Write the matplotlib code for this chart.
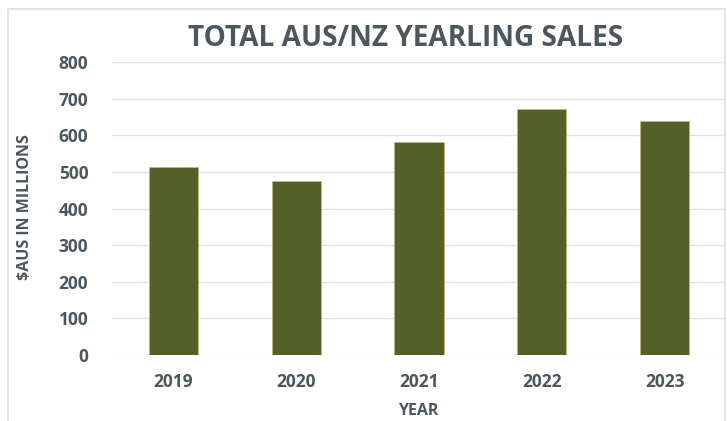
import matplotlib.pyplot as plt
from matplotlib.patches import Rectangle

years = ["2019", "2020", "2021", "2022", "2023"]
sales = [512, 476, 582, 673, 640]
y_ticks = [0, 100, 200, 300, 400, 500, 600, 700, 800]

TEXT = "#4b575e"
BAR = "#556027"
GRID = "#dce3ea"

plt.rcParams["font.family"] = ["Open Sans", "DejaVu Sans"]
plt.rcParams["font.weight"] = "bold"

W, H = 727, 421
fig = plt.figure(figsize=(W / 100, H / 100), dpi=100)
fig.patch.set_facecolor("white")

# light outer frame of the chart box
fig.patches.append(Rectangle((8 / W, -0.05), 717 / W, 1.05 - 9 / H,
                             transform=fig.transFigure, fill=False,
                             edgecolor="#eadbd6", lw=1.2))

ax = fig.add_axes([112 / W, 1 - 355 / H, 614 / W, 293 / H])
x = range(len(years))
ax.bar(x, sales, width=0.4, color=BAR, edgecolor="#c9b98a", linewidth=0.4, zorder=3)
ax.set_xlim(-0.5, len(years) - 0.5)
ax.set_ylim(0, 800)
ax.set_yticks(y_ticks)
ax.set_xticks(list(x))
ax.set_xticklabels(years)
ax.yaxis.grid(True, color=GRID, lw=1, zorder=0)
ax.set_axisbelow(True)
for s in ax.spines.values():
    s.set_visible(False)
ax.tick_params(axis="both", length=0, labelsize=12.5, colors=TEXT)
ax.tick_params(axis="y", pad=17)
ax.tick_params(axis="x", pad=13)
for lab in ax.get_xticklabels() + ax.get_yticklabels():
    lab.set_fontweight("bold")

fig.text(405.5 / W, 1 - 39 / H, "TOTAL AUS/NZ YEARLING SALES", ha="center", va="center",
         fontsize=20.2, fontweight="bold", color=TEXT)
fig.text(25 / W, 1 - 207 / H, "$AUS IN MILLIONS", ha="center", va="center",
         rotation=90, fontsize=11.5, fontweight="bold", color=TEXT)
fig.text(418 / W, 1 - 411 / H, "YEAR", ha="center", va="center",
         fontsize=11.5, fontweight="bold", color=TEXT)

fig.savefig("out.png", dpi=100)
